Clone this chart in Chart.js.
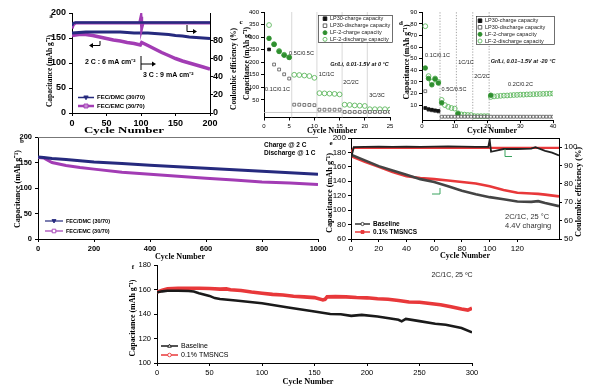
<!DOCTYPE html>
<html>
<head>
<meta charset="utf-8">
<script src="https://cdn.jsdelivr.net/npm/chart.js@4.4.1/dist/chart.umd.min.js"></script>
<style>
  body { margin: 0; background: #fff; }
  #wrap { position: relative; width: 593px; height: 391px; overflow: hidden; background: #fff; }
  #wrap canvas { position: absolute; left: 0; top: 0; }
</style>
</head>
<body>
<div id="wrap">
  <canvas id="pa" width="593" height="391"></canvas>
  <canvas id="pb" width="593" height="391"></canvas>
  <canvas id="pc" width="593" height="391"></canvas>
  <canvas id="pd" width="593" height="391"></canvas>
  <canvas id="pe" width="593" height="391"></canvas>
  <canvas id="pf" width="593" height="391"></canvas>
</div>
<script>
// ---- a: FEC/DMC vs FEC/EMC, 2C then 3C ----
const aDmcX = [0, 10, 20, 30, 40, 50, 60, 70, 80, 90, 100, 110, 120, 130, 140, 150, 160, 170, 180, 190, 200];
const aDmcCap = [160, 161, 162, 162, 162, 162, 162, 162, 161, 160, 160, 160, 159, 158, 157, 155, 154, 152, 151, 150, 149];
const aEmcX = [0, 10, 20, 30, 40, 50, 60, 70, 80, 90, 99, 101, 110, 120, 130, 140, 150, 160, 170, 180, 190, 200];
const aEmcCap = [155, 157, 157, 155, 152, 149, 146, 144, 141, 139, 136, 141, 135, 128, 121, 115, 109, 104, 100, 96, 92, 88];
const aCeX = [0, 2, 5, 20, 50, 80, 98, 100, 101, 103, 130, 160, 200];
const aDmcCe = [96, 99, 99.5, 99.5, 99.5, 99.5, 99.5, 99.5, 99.5, 99.5, 99.5, 99.5, 99.5];
const aEmcCe = [93, 97, 99, 99, 99, 99, 99, 106, 93, 99, 99, 99, 99];

// ---- b: long cycling, charge 2C / discharge 1C ----
const bX = [0, 20, 50, 100, 150, 200, 300, 400, 500, 600, 700, 800, 900, 1000];
const bDmcCap = [161, 160, 158, 156, 153.5, 151, 148, 144.5, 141.5, 138.5, 136, 133, 130, 127];
const bEmcCap = [160, 159, 150, 144, 140, 137, 131, 127, 123, 119, 115.5, 112, 110, 107];

// ---- c: rate test at 0 °C ----
const cCycles = [1, 2, 3, 4, 5, 6, 7, 8, 9, 10, 11, 12, 13, 14, 15, 16, 17, 18, 19, 20, 21, 22, 23, 24, 25];
const cLp30ChargeX = [1];
const cLp30Charge = [251];
const cLp30DisX = [2, 3, 4, 5, 6, 7, 8, 9, 10, 11, 12, 13, 14, 15, 16, 17, 18, 19, 20, 21, 22, 23, 24, 25];
const cLp30Dis = [191, 171, 152, 135, 31, 31, 30, 30, 29, 11, 11, 11, 11, 11, 2, 2, 2, 2, 2, 2, 2, 2, 2, 2];
const cLf2ChargeX = [1, 2, 3, 4, 5];
const cLf2Charge = [295, 271, 243, 228, 219];
const cLf2Dis = [348, 272, 245, 230, 220, 150, 149, 147, 145, 138, 77, 76, 75, 74, 72, 31, 30, 28, 27, 26, 13, 13, 13, 13, 12];
const cLabels = ['0.1C/0.1C', '0.5C/0.5C', '1C/1C', '2C/2C', '3C/3C'];

// ---- d: rate test at -20 °C ----
const dCycles = [1, 2, 3, 4, 5, 6, 7, 8, 9, 10, 11, 12, 13, 14, 15, 16, 17, 18, 19, 20,
  21, 22, 23, 24, 25, 26, 27, 28, 29, 30, 31, 32, 33, 34, 35, 36, 37, 38, 39, 40];
const dLp30Charge = [7.5, 6.5, 6, 5.5, 5];
const dLp30Dis = [22, 6, 5.5, 5, 4.5, 0, 0, 0, 0, 0, 0, 0, 0, 0, 0, 0, 0, 0, 0, 0,
  0, 0, 0, 0, 0, 0, 0, 0, 0, 0, 0, 0, 0, 0, 0, 0, 0, 0, 0, 0];
const dLf2ChargeX = [1, 2, 3, 4, 5, 6, 11, 21];
const dLf2Charge = [42, 33, 27.5, 32.5, 29, 12, 2.5, 18.5];
const dLf2Dis = [78, 35, 30, 33, 30, 14.5, 10, 8.5, 7.5, 7, 3, 2, 1.8, 1.5, 1.5, 0.5, 0.5, 0.5, 0.5, 0.5,
  17, 17.5, 17.8, 18, 18.2, 18.3, 18.5, 18.7, 18.8, 19, 19, 19.2, 19.3, 19.4, 19.5, 19.6, 19.7, 19.8, 19.9, 20];
const dLabels = ['0.1C/0.1C', '0.5C/0.5C', '1C/1C', '2C/2C', '0.2C/0.2C'];

// ---- e: 2C/1C 25 °C, 4.4V ----
const eCapX = [0, 10, 20, 30, 40, 50, 60, 70, 80, 90, 100, 110, 120, 130, 135, 140, 150];
const eBaseCap = [177, 169, 161, 155, 149, 143, 139, 133, 127, 122, 118, 115, 112, 111.5, 112.5, 110, 105.5];
const eTmsCap = [175, 167, 160, 153, 147, 144.5, 143, 141, 139, 137, 133, 128, 124, 123, 122.5, 121.5, 119];
const eCeX = [0, 2, 10, 20, 30, 40, 50, 60, 70, 80, 90, 99, 100, 101, 110, 120, 130, 133, 140, 145, 150];
const eBaseCe = [94, 100, 100.2, 100.3, 100.2, 100.3, 100.2, 100.3, 100.4, 100.3, 100.2, 100.2, 104, 97.5, 99, 99, 99.2, 100, 98, 97, 95.5];
const eTmsCe = [97, 99.6, 99.6, 99.6, 99.6, 99.6, 99.6, 99.6, 99.6, 99.6, 99.6, 99.6, 99.6, 99.6, 99.6, 99.6, 99.6, 99.6, 99.6, 99.6, 99.6];

// ---- f: 2C/1C 25 °C ----
const fBaseX = [0, 5, 10, 20, 30, 35, 40, 50, 55, 60, 75, 100, 125, 150, 165, 175, 185, 195, 210, 230, 233, 237, 250, 265, 275, 290, 300];
const fBase = [157.8, 158.5, 159, 159, 158.8, 158.3, 157, 154.8, 153, 152.3, 151, 148.8, 145.3, 142, 140, 139.8, 138.5, 139.3, 138, 135.3, 134, 136, 134.2, 132, 131.2, 128.5, 125];
const fTmsX = [0, 5, 10, 20, 30, 40, 50, 60, 66, 70, 80, 90, 100, 110, 120, 130, 140, 150, 158, 160, 162, 170, 180, 190, 200, 210, 220, 230, 240, 250, 260, 270, 280, 290, 296, 300];
const fTms = [157.8, 159.5, 160.5, 161, 161, 161, 160.8, 160.3, 160.5, 159.8, 159.2, 158, 157, 156, 155.5, 154.5, 154, 153.4, 151.5, 152, 154, 154.2, 154, 153.5, 153.2, 152.5, 152, 151, 149.8, 149.6, 148.5, 147.5, 146, 144, 143.2, 144.7];

const W = 593, H = 391;
const ARIAL = 'Arial, "Liberation Sans", sans-serif';
const SERIF = '"Times New Roman", "Liberation Serif", serif';
const NAVY = '#262a7e', PURPLE = '#a23cb4', GREEN = '#2f8f2f', LGREEN = '#5fb85f', RED = '#e8383a';
const CAP = 'Capacitance (mAh g\u207B\u00B9)';
const CE = 'Coulombic efficiency (%)';

function pts(xs, ys) {
  return xs.map((x, i) => ({ x, y: ys[i] })).filter(p => p.y !== null);
}

function frame(L, T, R, B, wl, wr) {
  return { padding: { left: L - wl, top: T, right: W - R - wr, bottom: H - B - 20 } };
}

function linX(min, max, step, size, bold, pad, keep) {
  return {
    type: 'linear', min, max,
    ticks: { stepSize: step, padding: pad, color: '#000', maxRotation: 0, autoSkip: false,
      callback: v => String(v),
      font: { family: ARIAL, size, weight: bold ? 'bold' : 'normal' } },
    grid: { drawOnChartArea: false, tickLength: 3, color: '#000' },
    border: { color: '#000', width: 1 },
    afterBuildTicks: s => { if (keep) s.ticks = s.ticks.filter(t => keep(t.value)); },
    afterFit: s => { s.height = 20; s.paddingLeft = 0; s.paddingRight = 0; }
  };
}

function linY(min, max, step, size, bold, pad, width, position, keep) {
  return {
    type: 'linear', min, max, position: position || 'left',
    ticks: { stepSize: step, padding: pad, color: '#000',
      callback: v => String(v),
      font: { family: ARIAL, size, weight: bold ? 'bold' : 'normal' } },
    grid: { drawOnChartArea: false, tickLength: 3, color: '#000' },
    border: { color: '#000', width: 1 },
    afterBuildTicks: s => { if (keep) s.ticks = s.ticks.filter(t => keep(t.value)); },
    afterFit: s => { s.width = width; s.paddingTop = 0; s.paddingBottom = 0; }
  };
}

function say(ctx, s, x, y, o = {}) {
  ctx.save();
  ctx.font = o.font || '7px ' + ARIAL;
  ctx.fillStyle = o.color || '#000';
  ctx.textAlign = o.align || 'center';
  ctx.textBaseline = 'middle';
  ctx.translate(x, y);
  if (o.rot) ctx.rotate(o.rot);
  if (o.w) ctx.scale(o.w / ctx.measureText(s).width, 1);
  ctx.fillText(s, 0, 0);
  ctx.restore();
}

function path(ctx, p, color, w, dash) {
  ctx.save();
  ctx.strokeStyle = color;
  ctx.lineWidth = w || 1;
  ctx.setLineDash(dash || []);
  ctx.beginPath();
  p.forEach((q, i) => i ? ctx.lineTo(q[0], q[1]) : ctx.moveTo(q[0], q[1]));
  ctx.stroke();
  ctx.restore();
}

function head(ctx, x, y, dir, color, sz) {
  ctx.save();
  ctx.fillStyle = color;
  ctx.beginPath();
  ctx.moveTo(x, y);
  ctx.lineTo(x - dir * sz, y - sz * 0.6);
  ctx.lineTo(x - dir * sz, y + sz * 0.6);
  ctx.closePath();
  ctx.fill();
  ctx.restore();
}

function mark(ctx, style, x, y, r, stroke, fill) {
  ctx.save();
  ctx.strokeStyle = stroke;
  ctx.fillStyle = fill || 'rgba(0,0,0,0)';
  ctx.lineWidth = 0.9;
  ctx.beginPath();
  if (style === 'rect') ctx.rect(x - r, y - r, 2 * r, 2 * r);
  else if (style === 'down') { ctx.moveTo(x - r, y - r * 0.7); ctx.lineTo(x + r, y - r * 0.7); ctx.lineTo(x, y + r); ctx.closePath(); }
  else if (style === 'up') { ctx.moveTo(x - r, y + r * 0.7); ctx.lineTo(x + r, y + r * 0.7); ctx.lineTo(x, y - r); ctx.closePath(); }
  else ctx.arc(x, y, r, 0, Math.PI * 2);
  if (fill) ctx.fill();
  ctx.stroke();
  ctx.restore();
}

function legRow(ctx, x1, x2, y, color, lw, style, r, fill, text, font) {
  path(ctx, [[x1, y], [x2, y]], color, lw);
  mark(ctx, style, (x1 + x2) / 2, y, r, color, fill);
  say(ctx, text, x2 + 3, y, { font, align: 'left' });
}

function make(id, cfg, under, over) {
  cfg.options.responsive = false;
  cfg.options.animation = false;
  cfg.options.events = [];
  cfg.options.devicePixelRatio = 1;
  cfg.options.plugins = { legend: { display: false }, tooltip: { enabled: false } };
  cfg.options.elements = { point: { radius: 0 }, line: { tension: 0 } };
  cfg.plugins = [{
    id: 'deco_' + id,
    beforeDatasetsDraw: c => { if (under) under(c, c.ctx); },
    afterDraw: c => { if (over) over(c, c.ctx); }
  }];
  return new Chart(document.getElementById(id), cfg);
}

const ROT = -Math.PI / 2;

// ---------- panel a ----------
make('pa', {
  type: 'line',
  data: { datasets: [
    { data: pts(aCeX, aDmcCe), yAxisID: 'y2', borderColor: NAVY, borderWidth: 2.5 },
    { data: pts(aCeX, aEmcCe), yAxisID: 'y2', borderColor: PURPLE, borderWidth: 3 },
    { data: pts(aDmcX, aDmcCap), yAxisID: 'y', borderColor: NAVY, borderWidth: 3 },
    { data: pts(aEmcX, aEmcCap), yAxisID: 'y', borderColor: PURPLE, borderWidth: 3.5 }
  ] },
  options: {
    layout: frame(72, 13, 210, 113, 40, 30),
    scales: {
      x: linX(0, 200, 50, 9, true, 2),
      y: linY(0, 200, 50, 9, true, 3, 40),
      y2: linY(0, 110, 20, 9, true, 0, 30, 'right', v => v <= 100)
    }
  }
}, null, (c, ctx) => {
  const tf = 'bold 9px ' + SERIF;
  say(ctx, 'Cycle Number', 124, 131, { font: tf, w: 80 });
  say(ctx, CAP, 50, 71, { font: tf, rot: ROT, w: 72 });
  say(ctx, CE, 234, 69, { font: tf, rot: ROT, w: 82 });
  say(ctx, 'a', 51, 16, { font: 'bold 7px ' + SERIF });
  const af = 'bold 7px ' + ARIAL;
  say(ctx, '2 C : 6 mA cm\u207B\u00B2', 85, 62, { font: af, align: 'left' });
  say(ctx, '3 C : 9 mA cm\u207B\u00B2', 143, 75, { font: af, align: 'left' });
  path(ctx, [[141, 56], [141, 70]], '#000', 1);
  path(ctx, [[141, 64], [152, 64]], '#000', 1);
  head(ctx, 156, 64, 1, '#000', 4);
  path(ctx, [[100, 41], [100, 45.5], [92, 45.5]], '#000', 1);
  head(ctx, 89, 45.5, -1, '#000', 4);
  path(ctx, [[187, 25], [187, 31.5], [194, 31.5]], '#000', 1);
  head(ctx, 197, 31.5, 1, '#000', 4);
  const lf = 'bold 6px ' + ARIAL;
  legRow(ctx, 78, 94, 97.5, NAVY, 1.5, 'down', 2.2, NAVY, 'FEC/DMC (30/70)', lf);
  legRow(ctx, 78, 94, 106, PURPLE, 2.5, 'rect', 2, '#c98bd6', 'FEC/EMC (30/70)', lf);
});

// ---------- panel b ----------
make('pb', {
  type: 'line',
  data: { datasets: [
    { data: pts(bX, bDmcCap), borderColor: NAVY, borderWidth: 3 },
    { data: pts(bX, bEmcCap), borderColor: PURPLE, borderWidth: 3 }
  ] },
  options: {
    layout: frame(38, 137, 318, 239, 36, 0),
    scales: {
      x: linX(0, 1000, 200, 7.5, true, 2),
      y: linY(0, 200, 50, 7.5, true, 3, 36)
    }
  }
}, null, (c, ctx) => {
  const a = c.chartArea;
  path(ctx, [[a.left, a.top + 0.5], [a.right, a.top + 0.5]], '#777', 1);
  const tf = 'bold 9px ' + SERIF;
  say(ctx, 'Cycle Number', 180, 257, { font: tf, w: 50 });
  say(ctx, CAP, 18, 189, { font: tf, rot: ROT, w: 78 });
  say(ctx, 'b', 22, 141, { font: 'bold 7px ' + SERIF });
  say(ctx, 'Charge @ 2 C', 264, 145, { font: 'bold 6.5px ' + ARIAL, align: 'left' });
  say(ctx, 'Discharge @ 1 C', 264, 153, { font: 'bold 6.5px ' + ARIAL, align: 'left' });
  const lf = 'bold 5.5px ' + ARIAL;
  legRow(ctx, 45, 63, 221, NAVY, 1.2, 'down', 2, NAVY, 'FEC/DMC (30/70)', lf);
  legRow(ctx, 45, 63, 231, PURPLE, 1.2, 'rect', 1.8, '#fff', 'FEC/EMC (30/70)', lf);
});

// ---------- panels c, d (scatter) ----------
function rateSets(lp30ChX, lp30Ch, lp30DiX, lp30Di, lfChX, lfCh, lfDiX, lfDi) {
  return [
    { data: pts(lp30ChX, lp30Ch), pointStyle: 'rect', pointRadius: 2, backgroundColor: '#111', borderColor: '#111', pointBorderWidth: 0.8 },
    { data: pts(lp30DiX, lp30Di), pointStyle: 'rect', pointRadius: 2, backgroundColor: '#fff', borderColor: '#555', pointBorderWidth: 0.8 },
    { data: pts(lfChX, lfCh), pointStyle: 'circle', pointRadius: 2.3, backgroundColor: GREEN, borderColor: GREEN, pointBorderWidth: 0.8 },
    { data: pts(lfDiX, lfDi), pointStyle: 'circle', pointRadius: 2.4, backgroundColor: 'rgba(255,255,255,0)', borderColor: LGREEN, pointBorderWidth: 0.9 }
  ];
}

function rateLegend(ctx, bx, by, bw, bh, mx, ys) {
  ctx.save();
  ctx.fillStyle = '#fff';
  ctx.fillRect(bx, by, bw, bh);
  ctx.strokeStyle = '#333';
  ctx.lineWidth = 0.7;
  ctx.strokeRect(bx + 0.5, by + 0.5, bw, bh);
  ctx.restore();
  const f = '5.5px ' + ARIAL;
  mark(ctx, 'rect', mx, ys[0], 1.8, '#111', '#111');
  mark(ctx, 'rect', mx, ys[1], 1.8, '#555', '#fff');
  mark(ctx, 'circle', mx, ys[2], 2, GREEN, GREEN);
  mark(ctx, 'circle', mx, ys[3], 2, LGREEN, null);
  ['LP30-charge capacity', 'LP30-discharge capacity', 'LF-2-charge capacity', 'LF-2-discharge capacity']
    .forEach((t, i) => say(ctx, t, mx + 5, ys[i], { font: f, align: 'left', color: '#222' }));
}

make('pc', {
  type: 'scatter',
  data: { datasets: rateSets(cLp30ChargeX, cLp30Charge, cLp30DisX, cLp30Dis, cLf2ChargeX, cLf2Charge, cCycles, cLf2Dis) },
  options: {
    layout: frame(264, 12, 390, 117.5, 40, 0),
    scales: {
      x: linX(0, 25, 5, 6, false, 2),
      y: linY(-20, 400, 50, 6, false, 2, 40, 'left', v => v >= 0)
    }
  }
}, (c, ctx) => {
  const a = c.chartArea, sx = c.scales.x, sy = c.scales.y;
  [5.5, 10.5, 15.5, 20.5].forEach(v => {
    const px = sx.getPixelForValue(v);
    path(ctx, [[px, a.top], [px, a.bottom]], '#cfcfcf', 0.8);
  });
  const y0 = sy.getPixelForValue(0);
  path(ctx, [[a.left, y0], [a.right, y0]], '#bdbdbd', 0.8);
}, (c, ctx) => {
  const tf = 'bold 9px ' + SERIF;
  say(ctx, 'Cycle Number', 332, 131, { font: tf, w: 50 });
  say(ctx, CAP, 247, 63.5, { font: tf, rot: ROT, w: 73 });
  say(ctx, 'c', 241, 22, { font: 'bold 7px ' + SERIF });
  const f = '5.5px ' + ARIAL;
  const spots = [[277.5, 89], [301.5, 53], [326.5, 74], [351, 82], [377, 95]];
  cLabels.forEach((t, i) => say(ctx, t, spots[i][0], spots[i][1], { font: f, color: '#222' }));
  say(ctx, 'Gr/Li, 0.01-1.5V at 0 \u00B0C', 359.5, 64, { font: 'italic bold 5.5px ' + ARIAL, color: '#111' });
  rateLegend(ctx, 318, 15, 74, 27, 325, [18.7, 25.7, 32.7, 39.3]);
});

make('pd', {
  type: 'scatter',
  data: { datasets: rateSets([1, 2, 3, 4, 5], dLp30Charge, dCycles, dLp30Dis, dLf2ChargeX, dLf2Charge, dCycles, dLf2Dis) },
  options: {
    layout: frame(422, 12.3, 553, 120.2, 40, 0),
    scales: {
      x: linX(0, 40, 10, 6, false, 0),
      y: linY(-3, 90, 10, 6, false, 2, 40, 'left', v => v >= 0)
    }
  }
}, (c, ctx) => {
  const a = c.chartArea, sx = c.scales.x;
  [5.5, 10.5, 15.5, 20.5].forEach(v => {
    const px = sx.getPixelForValue(v);
    path(ctx, [[px, a.top], [px, a.bottom]], '#8a8a8a', 0.8, [1.2, 1.6]);
  });
}, (c, ctx) => {
  const tf = 'bold 9px ' + SERIF;
  say(ctx, 'Cycle Number', 492, 131, { font: tf, w: 50 });
  say(ctx, CAP, 407, 62, { font: tf, rot: ROT, w: 75 });
  say(ctx, 'd', 401, 23, { font: 'bold 7px ' + SERIF });
  const f = '5.5px ' + ARIAL;
  const spots = [[437.5, 55.7], [454, 89.3], [466, 62], [482, 76], [520.5, 84.3]];
  dLabels.forEach((t, i) => say(ctx, t, spots[i][0], spots[i][1], { font: f, color: '#222' }));
  say(ctx, 'Gr/Li, 0.01~1.5V at -20 \u00B0C', 523, 61, { font: 'italic bold 5.5px ' + ARIAL, color: '#111' });
  rateLegend(ctx, 476, 16, 78, 28, 480, [20.7, 27.3, 34.3, 41]);
});

// ---------- panel e ----------
make('pe', {
  type: 'line',
  data: { datasets: [
    { data: pts(eCeX, eBaseCe), yAxisID: 'y2', borderColor: '#222', borderWidth: 1.8 },
    { data: pts(eCeX, eTmsCe), yAxisID: 'y2', borderColor: RED, borderWidth: 2.2 },
    { data: pts(eCapX, eBaseCap), yAxisID: 'y', borderColor: '#444', borderWidth: 2.6 },
    { data: pts(eCapX, eTmsCap), yAxisID: 'y', borderColor: RED, borderWidth: 2.6 }
  ] },
  options: {
    layout: frame(351, 138, 559, 239, 40, 30),
    scales: {
      x: linX(0, 150, 20, 8, false, 2, v => v % 20 === 0),
      y: linY(60, 200, 20, 8, false, 2, 40),
      y2: linY(50, 105, 10, 8, false, 2, 30, 'right', v => v <= 100)
    }
  }
}, null, (c, ctx) => {
  const a = c.chartArea;
  path(ctx, [[a.left, a.top + 0.5], [a.right, a.top + 0.5]], '#000', 1);
  const tf = 'bold 9px ' + SERIF;
  say(ctx, 'Cycle Number', 465, 256, { font: tf, w: 50 });
  say(ctx, CAP, 330, 193, { font: tf, rot: ROT, w: 80 });
  say(ctx, CE, 579, 192, { font: tf, rot: ROT, w: 90 });
  say(ctx, 'e', 331, 143, { font: 'bold 7px ' + SERIF });
  const gc = '#3aa35f';
  path(ctx, [[440, 188], [440, 194], [432, 194]], gc, 1);
  path(ctx, [[505, 149], [505, 156.5], [512, 156.5]], gc, 1);
  const lf = 'bold 6.5px ' + ARIAL;
  legRow(ctx, 355, 370, 224, '#333', 1.5, 'circle', 1.6, '#fff', 'Baseline', lf);
  legRow(ctx, 355, 370, 232, RED, 1.5, 'rect', 1.5, RED, '0.1% TMSNCS', lf);
  const tf2 = '7.5px ' + ARIAL;
  say(ctx, '2C/1C, 25 \u00B0C', 505, 217, { font: tf2, align: 'left', color: '#333' });
  say(ctx, '4.4V charging', 505, 226, { font: tf2, align: 'left', color: '#333' });
});

// ---------- panel f ----------
make('pf', {
  type: 'line',
  data: { datasets: [
    { data: pts(fBaseX, fBase), borderColor: '#1a1a1a', borderWidth: 2.6 },
    { data: pts(fTmsX, fTms), borderColor: RED, borderWidth: 3.6 }
  ] },
  options: {
    layout: frame(157, 265, 472, 363, 40, 0),
    scales: {
      x: linX(0, 300, 50, 7.5, false, 2),
      y: linY(100, 180, 20, 7.5, false, 3, 40)
    }
  }
}, null, (c, ctx) => {
  const tf = 'bold 9px ' + SERIF;
  say(ctx, 'Cycle Number', 308, 382, { font: tf, w: 51 });
  say(ctx, CAP, 133, 318, { font: tf, rot: ROT, w: 77 });
  say(ctx, 'f', 133, 267, { font: 'bold 7px ' + SERIF });
  const lf = '7px ' + ARIAL;
  legRow(ctx, 161, 178, 346, '#1a1a1a', 1.5, 'up', 1.8, '#fff', 'Baseline', lf);
  legRow(ctx, 161, 178, 355, RED, 1.5, 'circle', 1.8, '#fff', '0.1% TMSNCS', lf);
  say(ctx, '2C/1C, 25 \u00BAC', 452, 275, { font: '7px ' + ARIAL, color: '#222' });
});
</script>
</body>
</html>
